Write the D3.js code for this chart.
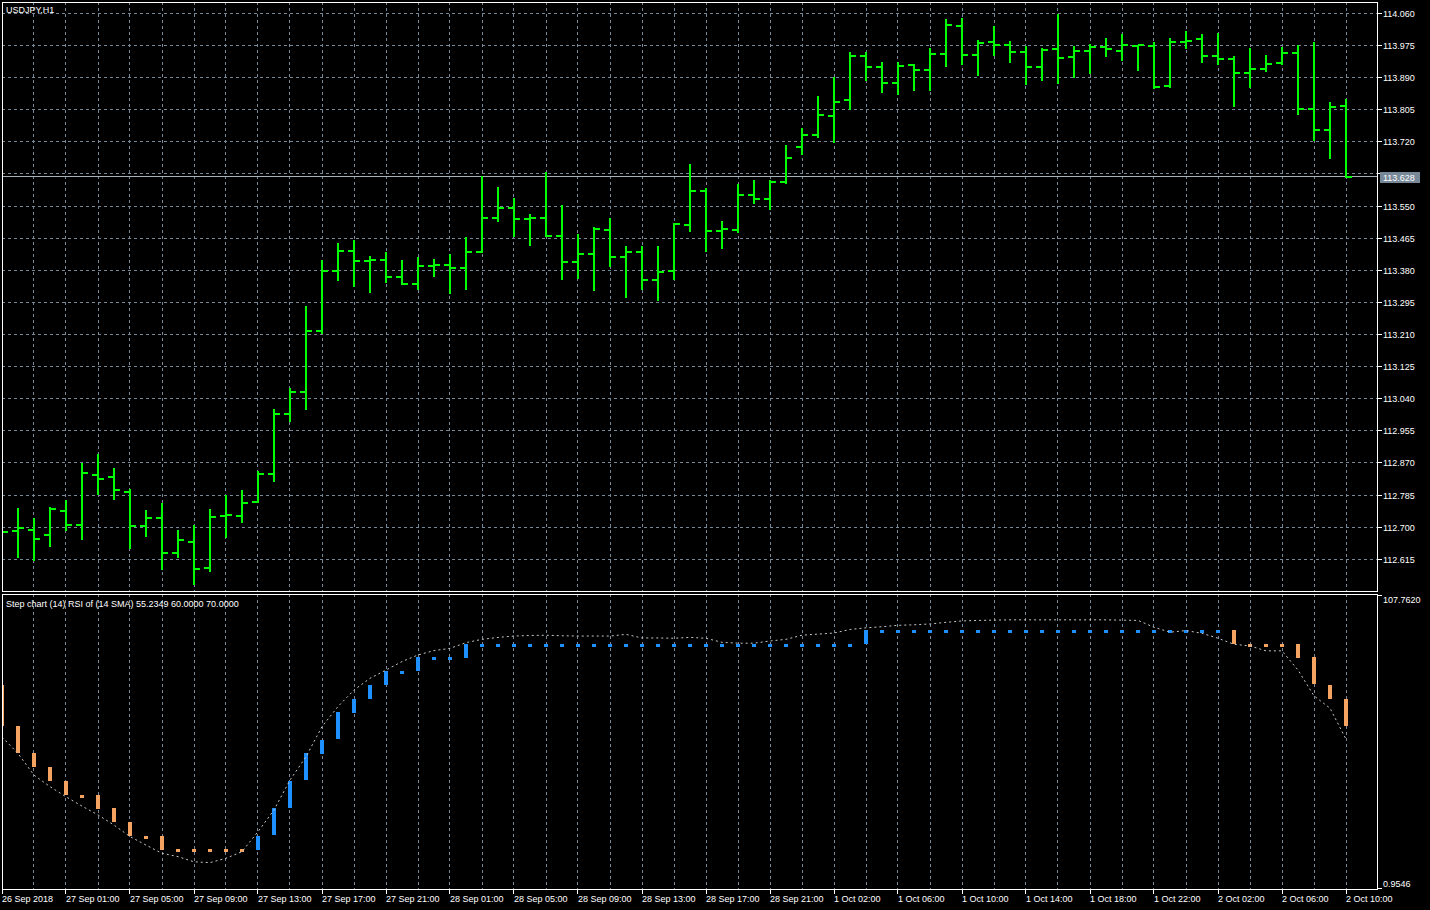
<!DOCTYPE html>
<html><head><meta charset="utf-8">
<script src="https://cdn.jsdelivr.net/npm/d3@7"></script>
<style>
html,body{margin:0;padding:0;background:#000;overflow:hidden}
svg{display:block}
text{font-family:"Liberation Sans",Arial,sans-serif;font-size:9px;fill:#fff}
</style>
</head><body><svg id="c" width="1430" height="910"></svg>
<script>
// ---------- data ----------
const symbolTitle = "USDJPY,H1";
const subTitle = "Step chart (14) RSI of (14 SMA) 55.2349 60.0000 70.0000";
const opens = [112.688,112.691,112.693,112.680,112.744,112.706,112.839,112.834,112.794,112.704,112.725,112.633,112.662,112.593,112.731,112.731,112.768,112.842,113.000,113.059,113.220,113.379,113.432,113.405,113.408,113.363,113.344,113.391,113.395,113.385,113.429,113.519,113.546,113.516,113.519,113.471,113.403,113.424,113.487,113.416,113.429,113.355,113.379,113.501,113.591,113.485,113.487,113.580,113.569,113.614,113.707,113.739,113.789,113.831,113.948,113.919,113.876,113.924,113.911,113.953,114.027,113.950,113.985,113.977,113.958,113.919,113.966,113.945,113.961,113.972,113.961,113.974,113.974,113.868,113.985,113.993,113.948,113.940,113.903,113.913,113.929,113.956,113.808,113.752,113.815];
const highs = [112.714,112.750,112.724,112.753,112.772,112.869,112.894,112.856,112.801,112.746,112.763,112.693,112.706,112.748,112.784,112.799,112.849,113.012,113.068,113.285,113.407,113.452,113.460,113.418,113.428,113.407,113.415,113.410,113.423,113.468,113.629,113.600,113.571,113.529,113.641,113.553,113.476,113.494,113.518,113.444,113.444,113.444,113.504,113.661,113.597,113.510,113.609,113.618,113.618,113.712,113.756,113.841,113.891,113.958,113.958,113.931,113.931,113.925,113.968,114.045,114.048,113.989,114.026,113.987,113.974,113.968,114.058,113.973,113.979,113.995,114.006,113.977,113.983,113.995,114.013,114.006,114.009,113.948,113.968,113.950,113.971,113.976,113.984,113.826,113.834];
const lows = [112.666,112.622,112.613,112.651,112.693,112.670,112.789,112.775,112.646,112.678,112.590,112.622,112.550,112.585,112.675,112.715,112.766,112.823,112.982,113.014,113.215,113.355,113.339,113.323,113.350,113.343,113.331,113.366,113.321,113.331,113.429,113.511,113.471,113.448,113.471,113.358,113.360,113.329,113.392,113.310,113.331,113.302,113.358,113.485,113.432,113.440,113.482,113.559,113.543,113.612,113.688,113.733,113.719,113.808,113.884,113.853,113.847,113.858,113.858,113.921,113.927,113.898,113.950,113.932,113.874,113.884,113.876,113.891,113.903,113.948,113.937,113.911,113.863,113.866,113.969,113.932,113.927,113.816,113.866,113.908,113.927,113.794,113.726,113.678,113.628];
const closes = [112.688,112.699,112.670,112.749,112.706,112.844,112.828,112.799,112.704,112.725,112.633,112.667,112.590,112.728,112.733,112.765,112.842,113.000,113.059,113.220,113.379,113.432,113.405,113.408,113.363,113.344,113.392,113.395,113.385,113.429,113.519,113.546,113.516,113.519,113.471,113.403,113.424,113.490,113.416,113.429,113.355,113.376,113.503,113.591,113.485,113.490,113.580,113.569,113.614,113.678,113.739,113.792,113.826,113.948,113.919,113.876,113.921,113.911,113.953,114.030,113.950,113.982,113.977,113.958,113.919,113.964,113.943,113.961,113.972,113.966,113.977,113.977,113.866,113.985,113.988,113.948,113.940,113.903,113.913,113.927,113.956,113.808,113.752,113.813,113.628];
const lastPrice = 113.628;
const rsiValues = [56.0,50.0,42.1,37.9,34.2,30.8,27.6,23.9,19.7,16.6,13.6,12.4,10.5,10.2,11.8,14.2,21.5,29.4,40.3,48.8,59.8,67.1,73.1,77.4,80.4,83.5,85.9,87.5,88.3,90.4,91.6,92.3,92.8,93.0,93.1,92.9,92.8,92.8,92.8,93.4,92.1,92.1,92.0,92.3,92.0,90.5,90.2,90.2,91.0,91.6,93.1,93.5,93.9,95.2,95.8,96.2,96.7,96.9,97.2,97.8,98.3,98.5,98.6,98.7,98.7,98.7,98.7,98.7,98.7,98.7,98.6,98.5,96.0,94.2,94.8,93.8,92.0,89.8,89.2,87.4,87.4,80.4,71.0,66.5,55.2];
const stepStart = 75;
const stepLevels = [60,50,45,40,35,35,30,25,20,20,15,15,15,15,15,15,20,30,40,50,55,65,70,75,80,80,85,85,85,90,90,90,90,90,90,90,90,90,90,90,90,90,90,90,90,90,90,90,90,90,90,90,90,90,95,95,95,95,95,95,95,95,95,95,95,95,95,95,95,95,95,95,95,95,95,95,95,90,90,90,90,85,75,70,60];
const priceTicks = ["114.060","113.975","113.890","113.805","113.720","113.635","113.550","113.465","113.380","113.295","113.210","113.125","113.040","112.955","112.870","112.785","112.700","112.615"];
const subTicks = ["107.7620","0.9546"];
const timeLabels = ["26 Sep 2018","27 Sep 01:00","27 Sep 05:00","27 Sep 09:00","27 Sep 13:00","27 Sep 17:00","27 Sep 21:00","28 Sep 01:00","28 Sep 05:00","28 Sep 09:00","28 Sep 13:00","28 Sep 17:00","28 Sep 21:00","1 Oct 02:00","1 Oct 06:00","1 Oct 10:00","1 Oct 14:00","1 Oct 18:00","1 Oct 22:00","2 Oct 02:00","2 Oct 06:00","2 Oct 10:00"];

// ---------- layout ----------
const L = 2, R = 1377;
const mainTop = 2, mainBot = 592;
const subTop = 594, subBot = 889;
const gridColor = "#778899";
const barColor = "#00ff00";
const upColor = "#1e90ff", downColor = "#f4a460";

const svg = d3.select("#c");
svg.append("rect").attr("width",1430).attr("height",910).attr("fill","#000");

const n = closes.length;
const x = d3.scaleLinear().domain([0, n-1]).range([2, 2 + 16*(n-1)]);
const y = d3.scaleLinear().domain([112.615, 114.060]).range([559.35, 13.3]);
const ys = d3.scaleLinear().domain([+subTicks[1], +subTicks[0]]).range([888, 595]);
const px = v => Math.floor(v) + 0.5;

const defs = svg.append("defs");
defs.append("clipPath").attr("id","cm").append("rect").attr("x",L).attr("y",mainTop).attr("width",R-L).attr("height",mainBot-mainTop);
defs.append("clipPath").attr("id","cs").append("rect").attr("x",L).attr("y",subTop).attr("width",R-L).attr("height",subBot-subTop);

// ---------- main window ----------
const gm = svg.append("g").attr("clip-path","url(#cm)").attr("shape-rendering","crispEdges");
gm.selectAll("line.hg").data(priceTicks).join("line")
  .attr("x1",L).attr("x2",R)
  .attr("y1",d=>px(y(+d))).attr("y2",d=>px(y(+d)))
  .attr("stroke",gridColor).attr("stroke-dasharray","3,3");
const vIdx = d3.range(2, n, 2);
gm.selectAll("line.vg").data(vIdx).join("line")
  .attr("x1",d=>px(x(d))).attr("x2",d=>px(x(d)))
  .attr("y1",mainTop).attr("y2",mainBot)
  .attr("stroke",gridColor).attr("stroke-dasharray","3,3");
gm.append("line").attr("x1",L).attr("x2",R)
  .attr("y1",px(y(lastPrice))).attr("y2",px(y(lastPrice)))
  .attr("stroke","#a8b0b8");
const bars = gm.selectAll("g.bar").data(d3.range(n)).join("g");
bars.append("line")
  .attr("x1",i=>x(i)).attr("x2",i=>x(i))
  .attr("y1",i=>Math.round(y(highs[i]))).attr("y2",i=>Math.round(y(lows[i]))+1)
  .attr("stroke",barColor).attr("stroke-width",2);
bars.append("line")
  .attr("x1",i=>x(i)-6).attr("x2",i=>x(i))
  .attr("y1",i=>Math.round(y(opens[i]))).attr("y2",i=>Math.round(y(opens[i])))
  .attr("stroke",barColor).attr("stroke-width",2);
bars.append("line")
  .attr("x1",i=>x(i)).attr("x2",i=>x(i)+6)
  .attr("y1",i=>Math.round(y(closes[i]))).attr("y2",i=>Math.round(y(closes[i])))
  .attr("stroke",barColor).attr("stroke-width",2);

svg.append("rect").attr("x",L+0.5).attr("y",mainTop+0.5).attr("width",R-L).attr("height",mainBot-mainTop-1)
  .attr("fill","none").attr("stroke","#fff").attr("shape-rendering","crispEdges");
svg.append("text").attr("x",6).attr("y",13).text(symbolTitle);

// price axis (label under the last-price box is hidden, as in the terminal)
const lpY = y(lastPrice);
const visibleTicks = priceTicks.filter(d => Math.abs(y(+d) - lpY) > 8);
const pa = svg.append("g");
pa.selectAll("line").data(priceTicks).join("line")
  .attr("x1",R).attr("x2",R+5).attr("y1",d=>px(y(+d))).attr("y2",d=>px(y(+d)))
  .attr("stroke","#fff").attr("shape-rendering","crispEdges");
pa.selectAll("text").data(visibleTicks).join("text")
  .attr("x",R+6).attr("y",d=>y(+d)+3.5).text(d=>d);
svg.append("rect").attr("x",1380).attr("y",Math.round(lpY)-5).attr("width",40).attr("height",11)
  .attr("fill","#778899").attr("shape-rendering","crispEdges");
svg.append("text").attr("x",1383).attr("y",lpY+4).text(lastPrice.toFixed(3));

// ---------- sub window ----------
const gs = svg.append("g").attr("clip-path","url(#cs)");
gs.selectAll("line.vg").data(vIdx).join("line")
  .attr("x1",d=>px(x(d))).attr("x2",d=>px(x(d)))
  .attr("y1",subTop).attr("y2",subBot)
  .attr("stroke",gridColor).attr("stroke-dasharray","3,3").attr("shape-rendering","crispEdges");

const stepData = [];
let prev = stepStart, col = downColor;
stepLevels.forEach((lv,i)=>{
  if (lv > prev) col = upColor; else if (lv < prev) col = downColor;
  stepData.push({i, from: prev, to: lv, col});
  prev = lv;
});
gs.selectAll("rect.st").data(stepData).join("rect")
  .attr("shape-rendering","crispEdges")
  .attr("x",d=>x(d.i)-2).attr("width",4)
  .attr("y",d=> d.from===d.to ? Math.round(ys(d.to)) : Math.round(ys(Math.max(d.from,d.to))))
  .attr("height",d=> d.from===d.to ? 3 : Math.round(Math.abs(ys(d.from)-ys(d.to))))
  .attr("fill",d=>d.col);

gs.append("path").datum(rsiValues)
  .attr("d", d3.line().x((d,i)=>x(i)).y(d=>ys(d)))
  .attr("fill","none").attr("stroke","#c8c8c8").attr("stroke-width",1).attr("stroke-dasharray","2,3");

svg.append("rect").attr("x",L+0.5).attr("y",subTop+0.5).attr("width",R-L).attr("height",subBot-subTop)
  .attr("fill","none").attr("stroke","#fff").attr("shape-rendering","crispEdges");
svg.append("text").attr("x",6).attr("y",607).text(subTitle);

svg.append("line").attr("x1",R).attr("x2",R+5).attr("y1",595.5).attr("y2",595.5).attr("stroke","#fff").attr("shape-rendering","crispEdges");
svg.append("line").attr("x1",R).attr("x2",R+5).attr("y1",888.5).attr("y2",888.5).attr("stroke","#fff").attr("shape-rendering","crispEdges");
svg.append("text").attr("x",R+6).attr("y",603).text(subTicks[0]);
svg.append("text").attr("x",R+6).attr("y",887).text(subTicks[1]);

// time axis
const ta = svg.append("g");
ta.selectAll("line").data(timeLabels).join("line")
  .attr("x1",(d,k)=>px(x(4*k))).attr("x2",(d,k)=>px(x(4*k)))
  .attr("y1",subBot).attr("y2",subBot+5)
  .attr("stroke","#fff").attr("shape-rendering","crispEdges");
ta.selectAll("text").data(timeLabels).join("text")
  .attr("x",(d,k)=>x(4*k)).attr("y",902).text(d=>d);
</script>
</body></html>
